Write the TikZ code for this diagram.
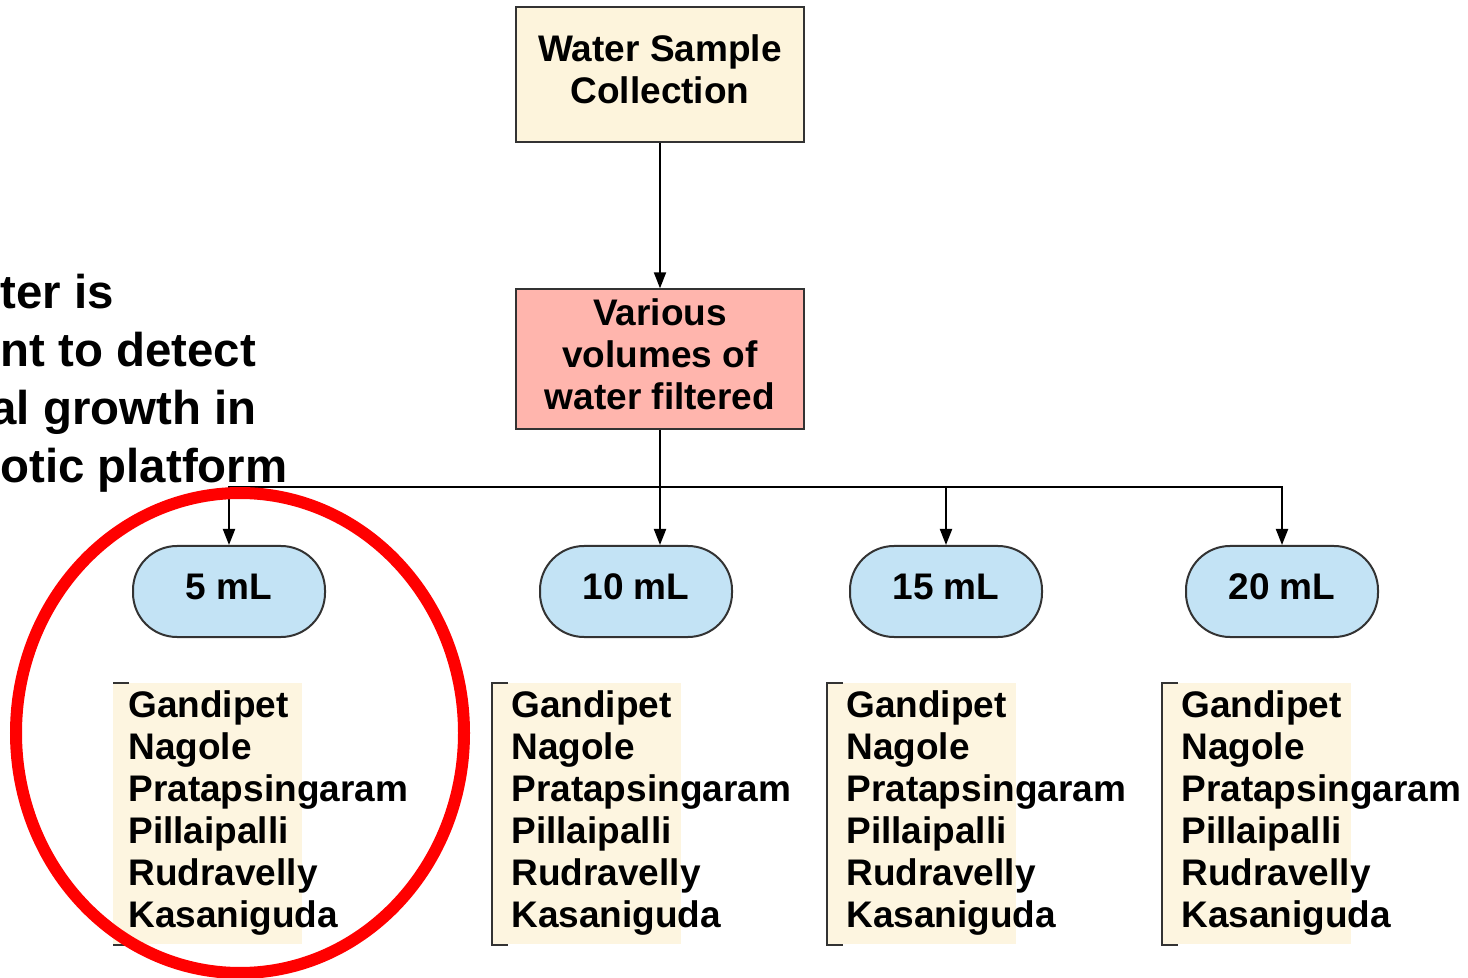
\documentclass[tikz,border=0pt]{standalone}
\usepackage{fontspec}
\setmainfont{Liberation Sans}
\definecolor{samplecream}{HTML}{FDF4DC}
\definecolor{filtersalmon}{HTML}{FFB5AD}
\definecolor{volblue}{HTML}{C3E3F5}
\definecolor{listcream}{HTML}{FDF5E0}
\definecolor{edgegray}{HTML}{333333}
\usetikzlibrary{arrows.meta, positioning}
\newcommand{\boxlines}[1]{\begin{tabular}{@{}c@{}}#1\end{tabular}}

\begin{document}
\begin{tikzpicture}[x=0.5pt, y=-0.5pt,
    every node/.style={font=\fontsize{18.5}{21}\selectfont\bfseries},
    stagebox/.style={draw=edgegray, line width=1pt, minimum width=144pt},
    volpill/.style={draw=edgegray, line width=1pt, fill=volblue, rounded corners=22pt,
                    minimum width=96pt, minimum height=45.5pt,
                    text height=14.7pt, text depth=6.3pt},
    flow/.style={line width=1pt, -{Triangle[length=8pt,width=6pt]}},
    listbg/.style={fill=listcream, minimum width=94.5pt, minimum height=130.5pt,
                   inner sep=0pt, anchor=north west},
    sitelist/.style={align=left, anchor=west, inner sep=0pt},
    bracket/.style={draw=edgegray, line width=1pt}]
  \useasboundingbox (0,0) rectangle (1468,978);

  \node[font=\fontsize{23.7}{29}\selectfont\bfseries, align=left, anchor=west, inner sep=0pt]
    (claim) at (0,383) {ter is\\nt to detect\\\hspace*{-5pt}al growth in\\otic platform};

  \node[stagebox, fill=samplecream, minimum height=67.5pt] (collect) at (660,74.5)
    {\boxlines{Water Sample\\Collection}};
  \node[stagebox, fill=filtersalmon, minimum height=69pt] (filter) at (660,359)
    {\boxlines{Various\\volumes of\\water filtered}};
  \draw[flow] (collect) -- (filter);

  \foreach \vol/\cx in {5/229, 10/636, 15/946, 20/1282}
    \node[volpill] (vol\vol) at (\cx,591.5) {\vol\ mL};

  \coordinate (split) at (660,487);
  \draw[line width=1pt] (filter) -- (split);
  \draw[flow] (split) -| (vol5);
  \draw[flow] (split) -- (split |- vol10.north);
  \draw[flow] (split) -| (vol15);
  \draw[flow] (split) -| (vol20);

  \foreach \n/\bx/\tx in {1/113/128, 2/492/511, 3/827/846, 4/1162/1181} {
    \node[listbg] (bg\n) at (\bx,683) {};
    \node[sitelist] (sites\n) at (\tx,813)
      {Gandipet\\Nagole\\Pratapsingaram\\Pillaipalli\\Rudravelly\\Kasaniguda};
  }
  \draw[bracket] ([xshift=8pt]bg1.north west) -- (bg1.north west);
  \draw[bracket] ([xshift=8pt]bg1.south west) -- (bg1.south west);
  \foreach \n in {2,3,4}
    \draw[bracket] ([xshift=8pt]bg\n.north west) -- (bg\n.north west)
      -- (bg\n.south west) -- ([xshift=8pt]bg\n.south west);

  \draw[red, line width=6pt] (240,733) ellipse [x radius=224, y radius=240];
\end{tikzpicture}
\end{document}
